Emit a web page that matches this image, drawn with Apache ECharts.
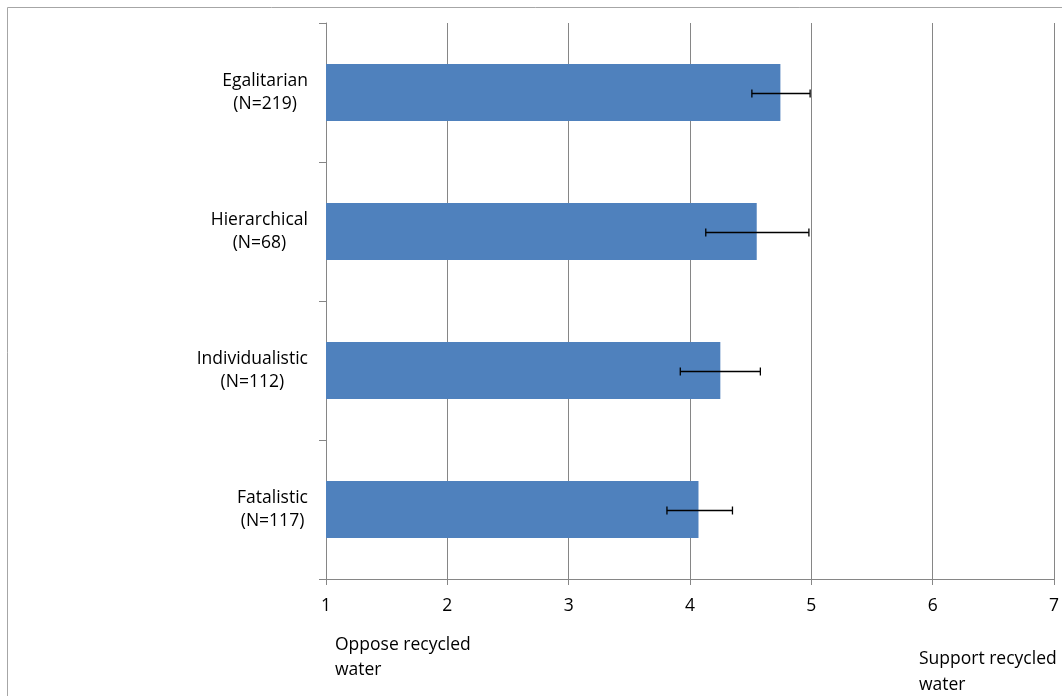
<!DOCTYPE html>
<html>
<head>
<meta charset="utf-8">
<script src="https://cdn.jsdelivr.net/npm/echarts@6/dist/echarts.min.js"></script>
<style>html,body{margin:0;padding:0;background:#fff}#c{width:1062px;height:696px}</style>
</head>
<body>
<div id="c"></div>
<script>
const categories = ['Egalitarian\n(N=219)', 'Hierarchical\n(N=68)', 'Individualistic\n(N=112)', 'Fatalistic\n(N=117)'];
const means = [4.745, 4.55, 4.25, 4.07];
const errLow = [4.51, 4.13, 3.92, 3.81];
const errHigh = [4.99, 4.98, 4.58, 4.35];
const xTicks = [1, 2, 3, 4, 5, 6, 7];
const leftNote = 'Oppose recycled\nwater';
const rightNote = 'Support recycled\nwater';

const FONT = '"Open Sans"';
const FS = 17.5;
const chart = echarts.init(document.getElementById('c'));
const errData = categories.map((c, i) => [errLow[i], errHigh[i], i]);

chart.setOption({
  animation: false,
  backgroundColor: '#fff',
  grid: { left: 326, right: 7, top: 23, bottom: 117 },
  xAxis: {
    type: 'value', min: xTicks[0], max: xTicks[xTicks.length - 1], interval: 1,
    axisLine: { show: true, lineStyle: { color: '#868686', width: 1 } },
    axisTick: { show: true, length: 6, lineStyle: { color: '#868686' } },
    splitLine: { show: true, lineStyle: { color: '#868686', width: 1 } },
    axisLabel: { color: '#000', fontFamily: FONT, fontSize: FS, margin: 18 }
  },
  yAxis: {
    type: 'category', data: categories, inverse: true,
    axisLine: { show: true, lineStyle: { color: '#868686', width: 1 } },
    axisTick: { show: true, length: 7, lineStyle: { color: '#868686' } },
    splitLine: { show: false },
    axisLabel: {
      margin: 18,
      formatter: v => v.split('\n').map(s => '{a|' + s + '}').join('\n'),
      rich: { a: { align: 'center', color: '#000', fontFamily: FONT, fontSize: FS, lineHeight: 23 } }
    }
  },
  series: [
    {
      type: 'bar', data: means, barCategoryGap: '59%',
      itemStyle: { color: '#4F81BD' }
    },
    {
      type: 'custom', data: errData, encode: { x: [0, 1], y: 2 }, z: 5,
      renderItem: (params, api) => {
        const idx = api.value(2);
        const p1 = api.coord([api.value(0), idx]);
        const p2 = api.coord([api.value(1), idx]);
        const h = 4;
        const st = { stroke: '#000', lineWidth: 1.3 };
        return {
          type: 'group',
          children: [
            { type: 'line', shape: { x1: p1[0], y1: p1[1] + 1, x2: p2[0], y2: p2[1] + 1 }, style: st },
            { type: 'line', shape: { x1: p1[0], y1: p1[1] + 1 - h, x2: p1[0], y2: p1[1] + 1 + h }, style: st },
            { type: 'line', shape: { x1: p2[0], y1: p2[1] + 1 - h, x2: p2[0], y2: p2[1] + 1 + h }, style: st }
          ]
        };
      }
    }
  ],
  graphic: [
    { type: 'rect', shape: { x: 7.5, y: 7.5, width: 1200, height: 800 }, style: { fill: 'none', stroke: '#a6a6a6', lineWidth: 1 }, silent: true },
    { type: 'text', left: 335, top: 633, style: { text: leftNote, fill: '#000', font: FS + 'px ' + FONT, lineHeight: 25 } },
    { type: 'text', left: 919, top: 646, style: { text: rightNote, fill: '#000', font: FS + 'px ' + FONT, lineHeight: 26 } }
  ]
});
</script>
</body>
</html>
